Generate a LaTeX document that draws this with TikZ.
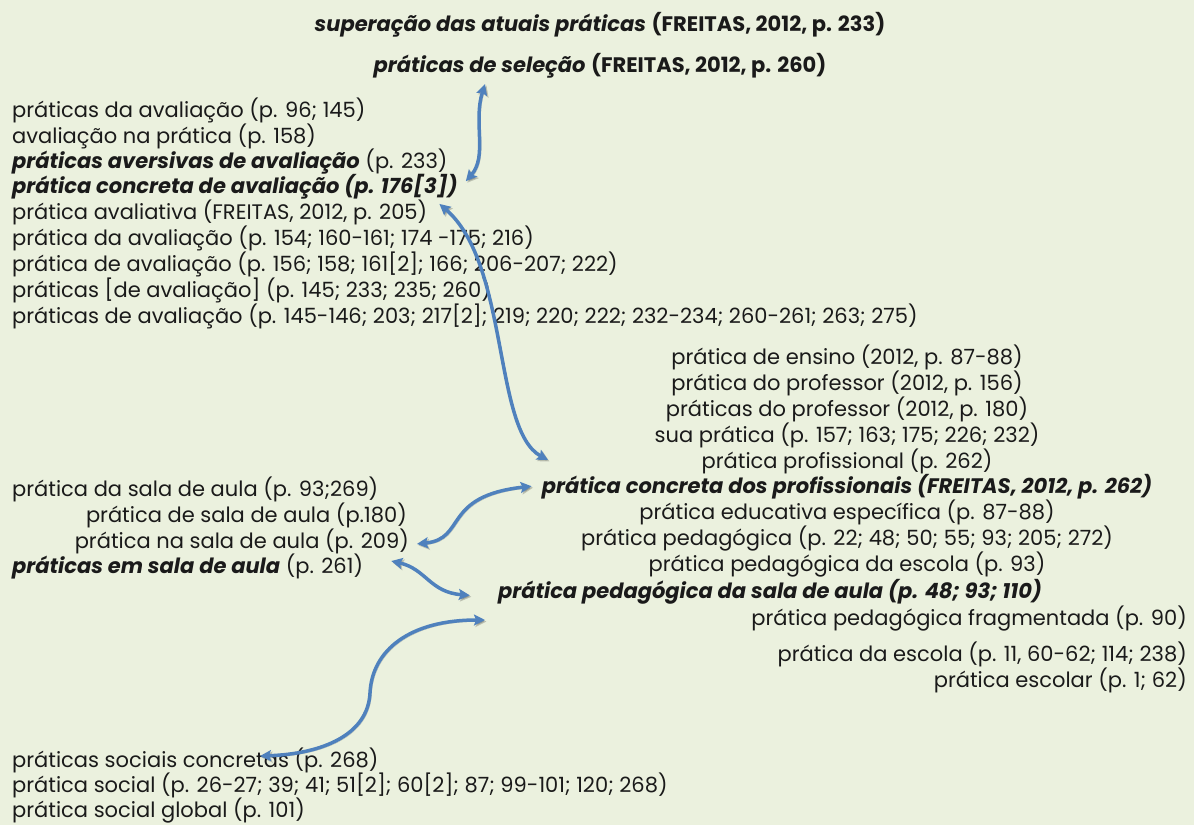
\documentclass[tikz,border=0pt]{standalone}
\usepackage{fontspec}
\setmainfont{Poppins}
\usetikzlibrary{arrows.meta,calc}
\definecolor{bg}{HTML}{EBF1DE}
\definecolor{arr}{HTML}{4F81BD}
\definecolor{txtc}{HTML}{1A1A1A}
\newcommand{\mybi}[1]{\textbf{\textit{#1}}}
\begin{document}
\begin{tikzpicture}[x=1pt,y=-1pt,
  t/.style={inner sep=0pt, font=\fontsize{21}{26}\selectfont, text=txtc},
  tl/.style={t, anchor=base west},
  tc/.style={t, anchor=base},
  tr/.style={t, anchor=base east},
  con/.style={draw=arr, line width=3.5pt,
    {Stealth[length=11pt,width=11pt,inset=2pt]}-{Stealth[length=11pt,width=11pt,inset=2pt]},
    preaction={draw=black, opacity=0.2, transform canvas={shift={(1.5pt,-1.5pt)}}}}]
\fill[bg] (0,0) rectangle (1194,825);
\useasboundingbox (0,0) rectangle (1194,825);

% top
\node[tc] (T1) at (600,31) {\mybi{superação das atuais práticas} \textbf{(FREITAS, 2012, p. 233)}};
\node[tc] (T2) at (600,72) {\mybi{práticas de seleção} \textbf{(FREITAS, 2012, p. 260)}};

% left block
\node[tl] (L1) at (12,117) {práticas da avaliação (p. 96; 145)};
\node[tl] (L2) at (12,143) {avaliação na prática (p. 158)};
\node[tl] (L3) at (12,168) {\mybi{práticas aversivas de avaliação} (p. 233)};
\node[tl] (L4) at (12,193) {\mybi{prática concreta de avaliação (p. 176[3])}};
\node[tl] (L5) at (12,219) {prática avaliativa (FREITAS, 2012, p. 205)};
\node[tl] (L6) at (12,245) {prática da avaliação (p. 154; 160-161; 174 -175; 216)};
\node[tl] (L7) at (12,271) {prática de avaliação (p. 156; 158; 161[2]; 166; 206-207; 222)};
\node[tl] (L8) at (12,297) {práticas [de avaliação] (p. 145; 233; 235; 260)};
\node[tl] (L9) at (12,323) {práticas de avaliação (p. 145-146; 203; 217[2]; 219; 220; 222; 232-234; 260-261; 263; 275)};

% right block
\node[tc] (R1) at (847,364) {prática de ensino (2012, p. 87-88)};
\node[tc] (R2) at (847,390) {prática do professor (2012, p. 156)};
\node[tc] (R3) at (847,416) {práticas do professor (2012, p. 180)};
\node[tc] (R4) at (847,442) {sua prática (p. 157; 163; 175; 226; 232)};
\node[tc] (R5) at (847,468) {prática profissional (p. 262)};
\node[tc] (R6) at (847,493) {\mybi{prática concreta dos profissionais (FREITAS, 2012, p. 262)}};
\node[tc] (R7) at (847,519) {prática educativa específica (p. 87-88)};
\node[tc] (R8) at (847,545) {prática pedagógica (p. 22; 48; 50; 55; 93; 205; 272)};
\node[tc] (R9) at (847,571) {prática pedagógica da escola (p. 93)};
\node[tc] (R10) at (770,598) {\mybi{prática pedagógica da sala de aula (p. 48; 93; 110)}};
\node[tr] (R11) at (1187,625) {prática pedagógica fragmentada (p. 90)};
\node[tr] (R12) at (1187,661) {prática da escola (p. 11, 60-62; 114; 238)};
\node[tr] (R13) at (1187,687) {prática escolar (p. 1; 62)};

% middle left
\node[tl] (M1) at (12,496) {prática da sala de aula (p. 93;269)};
\node[tr] (M2) at (407,522) {prática de sala de aula (p.180)};
\node[tr] (M3) at (409,548) {prática na sala de aula (p. 209)};
\node[tl] (M4) at (12,573) {\mybi{práticas em sala de aula} (p. 261)};

% bottom left
\node[tl] (B1) at (12,767) {práticas sociais concretas (p. 268)};
\node[tl] (B2) at (12,792) {prática social (p. 26-27; 39; 41; 51[2]; 60[2]; 87; 99-101; 120; 268)};
\node[tl] (B3) at (12,817) {prática social global (p. 101)};

% arrows
\coordinate (a1s) at (485,84);
\coordinate (a2e) at (548,460);
\coordinate (a5s) at (485,620);
\coordinate (a5m) at (370,693);
\coordinate (a5e) at (260,756);

\draw[con] (a1s) .. controls +(-12,38) and +(22,-25) .. ($(L4.east)+(8,-5)$);
\draw[con] ($(L5.east)+(12,-8)$) .. controls +(70,60) and +(-55,-30) .. (a2e);
\draw[con] ($(M3.east)+(8,3)$) .. controls +(50,-5) and +(-90,10) .. ($(R6.west)+(-10,0)$);
\draw[con] ($(M4.east)+(28,-5)$) .. controls +(35,8) and +(-40,-3) .. ($(R10.west)+(-28,4)$);
\draw[con] (a5s) .. controls +(-75,0) and +(2,-43) .. (a5m) .. controls +(-2,42) and +(62,-2) .. (a5e);
\end{tikzpicture}
\end{document}
